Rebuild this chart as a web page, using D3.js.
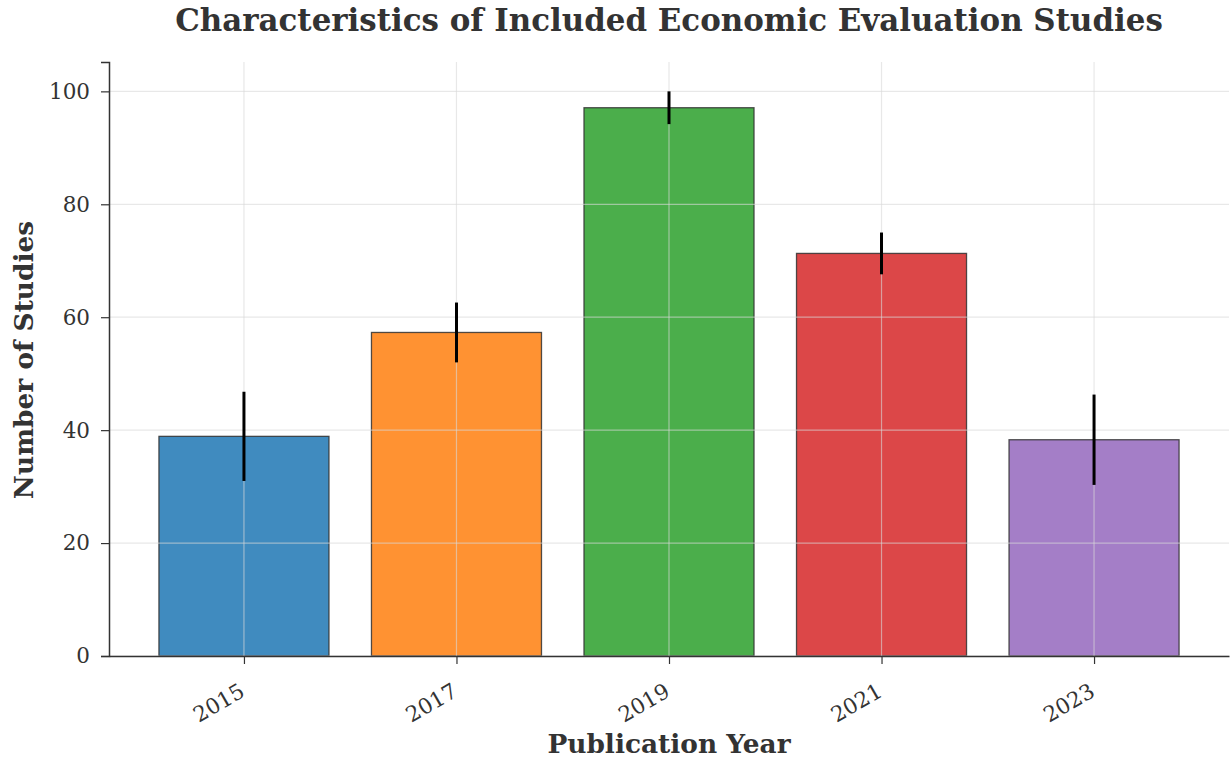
<!DOCTYPE html>
<html>
<head>
<meta charset="utf-8">
<script src="https://cdn.jsdelivr.net/npm/d3@7"></script>
<style>
  body { margin: 0; background: #fff; }
  text { font-family: "DejaVu Serif", serif; }
</style>
</head>
<body>
<div></div>
<script>
const years = ["2015", "2017", "2019", "2021", "2023"];
const studies = [38.9, 57.3, 97.1, 71.3, 38.3];
const errors = [7.9, 5.3, 2.9, 3.7, 8.0];
const colors = ["#1f77b4", "#ff7f0e", "#2ca02c", "#d62728", "#9467bd"];
const yTicks = [0, 20, 40, 60, 80, 100];

const W = 1230, H = 761;
const plotLeft = 109, plotRight = 1229, plotTop = 62, plotBottom = 656;

const svg = d3.select("div").append("svg").attr("width", W).attr("height", H);

const x = d3.scaleLinear().domain([-0.635, years.length - 1 + 0.635]).range([plotLeft, plotRight]);
const y = d3.scaleLinear().domain([0, 105.2]).range([plotBottom, plotTop]);
const barW = x(0.8) - x(0);

// bars
svg.append("g").selectAll("rect").data(studies).join("rect")
  .attr("x", (d, i) => x(i) - barW / 2)
  .attr("y", d => y(d))
  .attr("width", barW)
  .attr("height", d => y(0) - y(d))
  .attr("fill", (d, i) => colors[i])
  .attr("fill-opacity", 0.85)
  .attr("stroke", "#333")
  .attr("stroke-opacity", 0.85)
  .attr("stroke-width", 1.3);

// grid on top
const grid = svg.append("g");
grid.selectAll(".gy").data(yTicks).join("line")
  .attr("x1", plotLeft).attr("x2", plotRight)
  .attr("y1", d => y(d)).attr("y2", d => y(d))
  .attr("stroke", "#d8d8d8").attr("stroke-opacity", 0.6).attr("stroke-width", 1.2);
grid.selectAll(".gx").data(years).join("line")
  .attr("x1", (d, i) => x(i)).attr("x2", (d, i) => x(i))
  .attr("y1", plotTop).attr("y2", plotBottom)
  .attr("stroke", "#d8d8d8").attr("stroke-opacity", 0.6).attr("stroke-width", 1.2);

// error bars
svg.append("g").selectAll("line").data(studies).join("line")
  .attr("x1", (d, i) => x(i)).attr("x2", (d, i) => x(i))
  .attr("y1", (d, i) => y(d + errors[i]))
  .attr("y2", (d, i) => y(d - errors[i]))
  .attr("stroke", "#000").attr("stroke-width", 3);

// axes
const yAxis = svg.append("g").attr("transform", `translate(${plotLeft},0)`)
  .call(d3.axisLeft(y).tickValues(yTicks).tickSize(8).tickPadding(11));
yAxis.select(".domain").attr("stroke", "#333").attr("stroke-width", 1.5);
yAxis.selectAll(".tick line").attr("stroke", "#333").attr("stroke-width", 1.2);
yAxis.selectAll("text").attr("font-size", 21.5).attr("fill", "#333")
  .style("font-family", "DejaVu Serif");

const xAxis = svg.append("g").attr("transform", `translate(0,${plotBottom})`)
  .call(d3.axisBottom(x).tickValues(d3.range(years.length)).tickFormat(i => years[i])
    .tickSize(8).tickSizeOuter(0));
xAxis.select(".domain").attr("stroke", "#333").attr("stroke-width", 1.5);
xAxis.selectAll(".tick line").attr("stroke", "#333").attr("stroke-width", 1.2);
xAxis.selectAll("text")
  .attr("font-size", 21.5).attr("fill", "#333").style("font-family", "DejaVu Serif")
  .attr("text-anchor", "end")
  .attr("y", 0).attr("dy", "0.35em")
  .attr("transform", "translate(-2,33) rotate(-30)");

// labels
svg.append("text")
  .attr("x", 669).attr("y", 31)
  .attr("text-anchor", "middle")
  .attr("font-size", 30.9).attr("font-weight", "bold").attr("fill", "#333")
  .text("Characteristics of Included Economic Evaluation Studies");

svg.append("text")
  .attr("x", 669).attr("y", 753)
  .attr("text-anchor", "middle")
  .attr("font-size", 26.4).attr("font-weight", "bold").attr("fill", "#333")
  .text("Publication Year");

svg.append("text")
  .attr("transform", `translate(33,${(plotTop + plotBottom) / 2 + 1}) rotate(-90)`)
  .attr("text-anchor", "middle")
  .attr("font-size", 26.4).attr("font-weight", "bold").attr("fill", "#333")
  .text("Number of Studies");
</script>
</body>
</html>
